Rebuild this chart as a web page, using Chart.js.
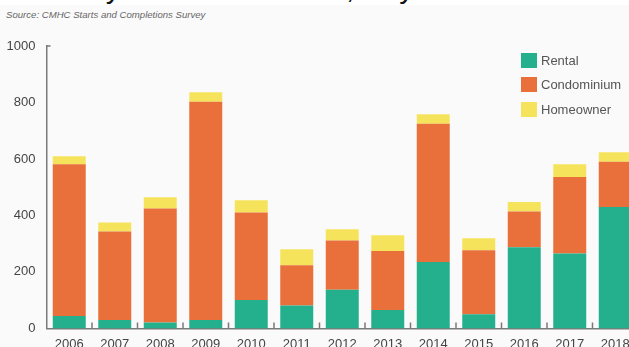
<!DOCTYPE html>
<html>
<head>
<meta charset="utf-8">
<script src="https://cdn.jsdelivr.net/npm/chart.js@4/dist/chart.umd.min.js"></script>
<style>
  html, body { margin: 0; padding: 0; width: 629px; height: 347px; overflow: hidden; background: #fafafa; font-family: "Liberation Sans", Arial, sans-serif; }
  #strip { position: absolute; left: 0; top: 0; width: 629px; height: 5px; background: #fff; }
  #title { position: absolute; left: -116px; top: -27px; font-size: 30px; line-height: 30px; color: #111; white-space: nowrap; }
  #source { position: absolute; left: 6px; top: 9px; font-size: 9.6px; font-style: italic; color: #666; white-space: nowrap; }
  #wrap { position: absolute; left: 0; top: 0; width: 650px; height: 352px; }
  #legend { position: absolute; left: 521px; top: 48px; }
  #legend .item { display: flex; align-items: center; height: 24.5px; }
  #legend .box { width: 16px; height: 15px; margin-right: 4px; }
  #legend .lbl { font-size: 13px; color: #555; }
</style>
</head>
<body>
<div id="strip"></div>
<div id="title">Housing Starts by Intended Market, City of Victoria</div>
<div id="source">Source: CMHC Starts and Completions Survey</div>
<div id="wrap"><canvas id="chart"></canvas></div>
<div id="legend"></div>
<script>
// Housing starts by intended market (units)
const years = ['2006', '2007', '2008', '2009', '2010', '2011', '2012', '2013', '2014', '2015', '2016', '2017', '2018'];
const rental      = [44, 30, 21, 30, 101, 81, 137, 65, 235, 50, 287, 265, 430];
const condominium = [537, 313, 404, 773, 309, 143, 174, 209, 490, 227, 127, 271, 160];
const homeowner   = [29, 32, 39, 33, 44, 56, 40, 56, 33, 42, 34, 45, 34];
const yTicks = [0, 200, 400, 600, 800, 1000];

const GREEN = '#24b08d';
const ORANGE = '#e9703a';
const YELLOW = '#f6e35c';
const AXIS = '#7a7a7a';

// small ticks: one pointing right at the top of the y axis, and upward ones between categories
const axisMarks = {
  id: 'axisMarks',
  afterDatasetsDraw(chart) {
    const { ctx, chartArea, scales } = chart;
    const x = scales.x, y = scales.y;
    ctx.save();
    ctx.strokeStyle = AXIS;
    ctx.lineWidth = 1.5;
    ctx.beginPath();
    const top = y.getPixelForValue(1000);
    ctx.moveTo(chartArea.left, top);
    ctx.lineTo(chartArea.left + 4, top);
    for (let i = 1; i < years.length; i++) {
      const bx = (x.getPixelForTick(i - 1) + x.getPixelForTick(i)) / 2;
      ctx.moveTo(bx, chartArea.bottom);
      ctx.lineTo(bx, chartArea.bottom - 6);
    }
    ctx.stroke();
    ctx.restore();
  }
};

const chart = new Chart(document.getElementById('chart'), {
  type: 'bar',
  data: {
    labels: years,
    datasets: [
      { label: 'Rental', data: rental, backgroundColor: GREEN },
      { label: 'Condominium', data: condominium, backgroundColor: ORANGE },
      { label: 'Homeowner', data: homeowner, backgroundColor: YELLOW }
    ]
  },
  options: {
    responsive: true,
    maintainAspectRatio: false,
    animation: false,
    layout: { padding: { top: 46, right: 12, bottom: 0, left: 0 } },
    datasets: { bar: { categoryPercentage: 1, barPercentage: 0.725, borderWidth: 0 } },
    plugins: {
      legend: { display: false },
      tooltip: { enabled: false }
    },
    scales: {
      x: {
        stacked: true,
        grid: { display: false },
        border: { display: true, color: AXIS, width: 1.5 },
        ticks: { color: '#444', font: { family: 'Liberation Sans', size: 13 }, padding: 0, maxRotation: 0 }
      },
      y: {
        stacked: true,
        min: 0,
        max: 1000,
        afterBuildTicks(scale) { scale.ticks = yTicks.map(v => ({ value: v })); },
        afterFit(scale) { scale.width = 46.5; },
        grid: { display: false },
        border: { display: true, color: AXIS, width: 1.5 },
        ticks: { color: '#444', font: { family: 'Liberation Sans', size: 13 }, padding: 3, callback: v => String(v) }
      }
    }
  },
  plugins: [axisMarks]
});

// legend built from the datasets
const legendEl = document.getElementById('legend');
chart.data.datasets.forEach(ds => {
  const item = document.createElement('div');
  item.className = 'item';
  item.innerHTML = '<span class="box" style="background:' + ds.backgroundColor + '"></span><span class="lbl">' + ds.label + '</span>';
  legendEl.appendChild(item);
});
</script>
</body>
</html>
